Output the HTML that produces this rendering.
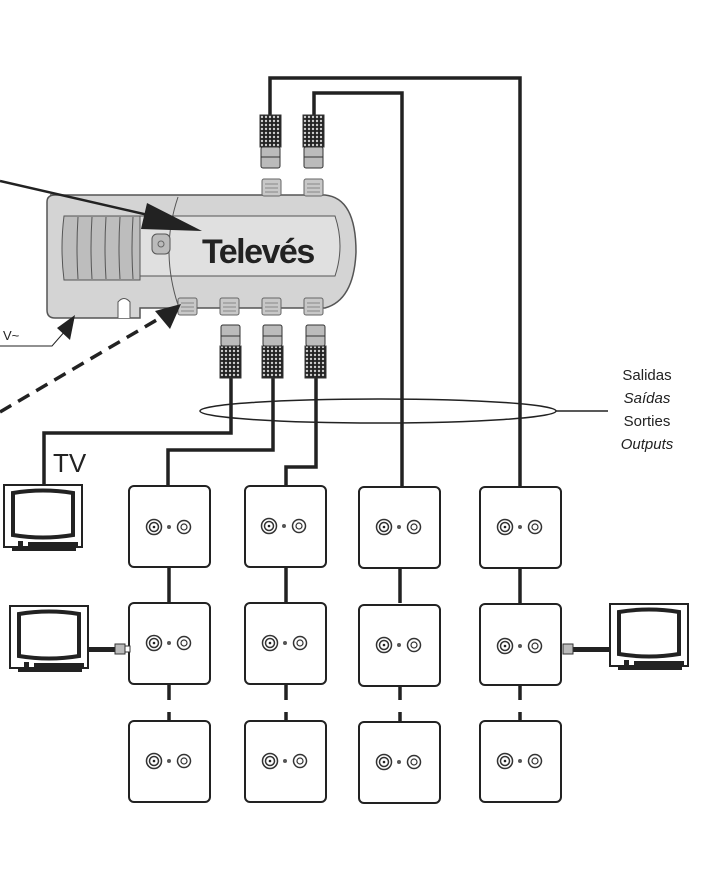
<!DOCTYPE html>
<html><head><style>
html,body{margin:0;padding:0;background:#fff;}
svg{display:block;}
text{font-family:"Liberation Sans",sans-serif;}
</style></head><body>
<svg width="705" height="881" viewBox="0 0 705 881" xmlns="http://www.w3.org/2000/svg">
<defs>
<pattern id="knurl" width="4" height="4" patternUnits="userSpaceOnUse">
<rect width="4" height="4" fill="#222"/><circle cx="2" cy="2" r="1.2" fill="#ccc"/>
</pattern>
<g id="jack">
<circle cx="-15" cy="0" r="7.5" fill="#fff" stroke="#333" stroke-width="1.5"/>
<circle cx="-15" cy="0" r="4.5" fill="none" stroke="#333" stroke-width="1.5"/>
<circle cx="-15" cy="0" r="1.3" fill="#222"/>
<circle cx="0" cy="0" r="2" fill="#555"/>
<circle cx="15" cy="0" r="6.5" fill="#fff" stroke="#333" stroke-width="1.5"/>
<circle cx="15" cy="0" r="3" fill="none" stroke="#333" stroke-width="1.2"/>
</g>
<g id="conn">
<rect x="0" y="0" width="21" height="32" fill="url(#knurl)" stroke="#333"/>
<rect x="1" y="32" width="19" height="21" rx="2" fill="#bbb" stroke="#333"/>
<line x1="1" y1="42" x2="20" y2="42" stroke="#333"/>
</g>
<g id="conn2">
<rect x="1" y="0" width="19" height="21" rx="2" fill="#bbb" stroke="#333"/>
<line x1="1" y1="11" x2="20" y2="11" stroke="#333"/>
<rect x="0" y="21" width="21" height="32" fill="url(#knurl)" stroke="#333"/>
</g>
<g id="port">
<rect x="0" y="0" width="19" height="17" rx="2" fill="#c8c8c8" stroke="#666"/>
<line x1="3" y1="5" x2="16" y2="5" stroke="#888"/><line x1="3" y1="9" x2="16" y2="9" stroke="#888"/><line x1="3" y1="13" x2="16" y2="13" stroke="#888"/>
</g>
<g id="tv">
<rect x="0" y="0" width="78" height="62" fill="#fff" stroke="#222" stroke-width="2"/>
<path d="M9 8 Q39 3 69 8 L69 50 Q39 55 9 50 Z" fill="#fff" stroke="#222" stroke-width="4"/>
<rect x="14" y="56" width="5" height="5" fill="#222"/>
<rect x="24" y="57" width="50" height="4" fill="#222"/>
<rect x="8" y="63" width="64" height="3" fill="#222"/>
</g>
</defs>

<g fill="none" stroke="#222" stroke-width="3.5">
<path d="M270 116 V78 H520 V487"/>
<path d="M314 116 V93 H402 V487"/>
<path d="M231 378 V433 H44 V486"/>
<path d="M273 378 V450 H168 V487"/>
<path d="M316 378 V467 H286 V487"/>
<path d="M169 567 V603 M286 567 V603 M400 567 V603 M520 567 V603"/>
<path d="M169 684 V700 M169 712 V722 M286 684 V700 M286 712 V722 M400 684 V700 M400 712 V722 M520 684 V700 M520 712 V722"/>
</g>

<use href="#conn" x="260" y="115"/>
<use href="#conn" x="303" y="115"/>
<use href="#conn2" x="220" y="325"/>
<use href="#conn2" x="262" y="325"/>
<use href="#conn2" x="305" y="325"/>

<!-- device -->
<path d="M50 195 H325 Q356 198 356 252 Q354 300 325 308 H140 V318 H55 Q47 318 47 310 V202 Q47 195 55 195 Z" fill="#d4d4d4" stroke="#555" stroke-width="1.5"/>
<path d="M64 216 H140 V280 H64 Q60 248 64 216 Z" fill="#bdbdbd" stroke="#555"/>
<g stroke="#555" fill="none"><path d="M78 217 Q76 248 78 279"/><path d="M92 217 Q90 248 92 279"/><path d="M106 217 Q104 248 106 279"/><path d="M120 217 Q118 248 120 279"/><path d="M133 217 Q131 248 133 279"/></g>
<path d="M140 216 H335 Q345 246 335 276 H140 Z" fill="#e0e0e0" stroke="#555"/>
<path d="M178 197 Q160 250 178 305" fill="none" stroke="#555"/>
<rect x="152" y="234" width="18" height="20" rx="5" fill="#bbb" stroke="#555"/>
<circle cx="161" cy="244" r="3" fill="none" stroke="#666"/>
<text x="202" y="263" font-size="34" font-weight="bold" fill="#222" letter-spacing="-1.5">Televés</text>
<path d="M118 318 V302 Q124 295 130 302 V318" fill="#fff" stroke="#555"/>

<use href="#port" x="262" y="179"/>
<use href="#port" x="304" y="179"/>
<use href="#port" x="178" y="298"/>
<use href="#port" x="220" y="298"/>
<use href="#port" x="262" y="298"/>
<use href="#port" x="304" y="298"/>

<!-- arrows -->
<line x1="0" y1="181" x2="170" y2="220" stroke="#222" stroke-width="2.5"/>
<polygon points="147,203 202,231 141,229" fill="#222"/>
<text x="3" y="340" font-size="13" fill="#222">V~</text>
<path d="M0 346 H52 L66 330" fill="none" stroke="#222" stroke-width="1"/>
<polygon points="75,315 70,340 57,328" fill="#222"/>
<line x1="0" y1="412" x2="160" y2="318" stroke="#222" stroke-width="3.5" stroke-dasharray="13,8"/>
<polygon points="181,304 170,329 155,311" fill="#222"/>

<ellipse cx="378" cy="411" rx="178" ry="12" fill="none" stroke="#222" stroke-width="1.5"/>
<line x1="556" y1="411" x2="608" y2="411" stroke="#222" stroke-width="1.5"/>
<g font-size="15" fill="#222" text-anchor="middle">
<text x="647" y="380">Salidas</text>
<text x="647" y="403" font-style="italic">Saídas</text>
<text x="647" y="426">Sorties</text>
<text x="647" y="449" font-style="italic">Outputs</text>
</g>
<text x="53" y="472" font-size="26" fill="#222">TV</text>

<g fill="#fff" stroke="#222" stroke-width="2">
<rect x="129" y="486" width="81" height="81" rx="5"/>
<rect x="245" y="486" width="81" height="81" rx="5"/>
<rect x="359" y="487" width="81" height="81" rx="5"/>
<rect x="480" y="487" width="81" height="81" rx="5"/>
<rect x="129" y="603" width="81" height="81" rx="5"/>
<rect x="245" y="603" width="81" height="81" rx="5"/>
<rect x="359" y="605" width="81" height="81" rx="5"/>
<rect x="480" y="604" width="81" height="81" rx="5"/>
<rect x="129" y="721" width="81" height="81" rx="5"/>
<rect x="245" y="721" width="81" height="81" rx="5"/>
<rect x="359" y="722" width="81" height="81" rx="5"/>
<rect x="480" y="721" width="81" height="81" rx="5"/>
</g>
<use href="#jack" x="169" y="527"/>
<use href="#jack" x="284" y="526"/>
<use href="#jack" x="399" y="527"/>
<use href="#jack" x="520" y="527"/>
<use href="#jack" x="169" y="643"/>
<use href="#jack" x="285" y="643"/>
<use href="#jack" x="399" y="645"/>
<use href="#jack" x="520" y="646"/>
<use href="#jack" x="169" y="761"/>
<use href="#jack" x="285" y="761"/>
<use href="#jack" x="399" y="762"/>
<use href="#jack" x="520" y="761"/>

<use href="#tv" x="4" y="485"/>
<use href="#tv" x="10" y="606"/>
<use href="#tv" x="610" y="604"/>
<rect x="88" y="647" width="28" height="5" fill="#222"/>
<rect x="115" y="644" width="10" height="10" fill="#bbb" stroke="#333"/>
<rect x="125" y="646" width="5" height="6" fill="#fff" stroke="#333"/>
<rect x="573" y="647" width="38" height="5" fill="#222"/>
<rect x="563" y="644" width="10" height="10" fill="#bbb" stroke="#333"/>
</svg>
</body></html>
